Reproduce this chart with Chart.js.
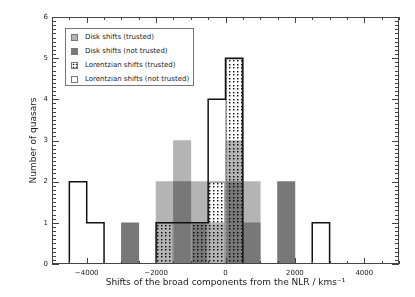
<!DOCTYPE html>
<html><head><meta charset="utf-8">
<script src="https://cdn.jsdelivr.net/npm/chart.js@4"></script>
<style>
html,body{margin:0;padding:0;background:#fff;}
#wrap{position:relative;width:415px;height:297px;overflow:hidden;}
canvas{position:absolute;left:0;top:0;}
#legend{position:absolute;left:65px;top:28px;width:127px;height:56px;border:1px solid #777;background:#fff;font:7px 'DejaVu Sans';color:#222;}
.row{position:absolute;left:0;height:14px;line-height:14px;white-space:nowrap;}
.sw{position:absolute;left:5px;top:4px;width:5px;height:5px;border:1px solid #777;}
.tx{position:absolute;left:19px;top:0;}
</style></head>
<body>
<div id="wrap">
<canvas id="c" width="415" height="297"></canvas>
<div id="legend"></div>
</div>
<script>
// ---- data (histogram bins of 500 km/s, centres) ----
const binCenters = [-4750,-4250,-3750,-3250,-2750,-2250,-1750,-1250,-750,-250,250,750,1250,1750,2250,2750,3250,3750,4250,4750];
const diskTrusted    = [0,0,0,0,0,0,2,3,2,1,3,2,0,0,0,0,0,0,0,0];
const diskNotTrusted = [0,0,0,0,1,0,0,2,1,0,2,1,0,2,0,0,0,0,0,0];
const lorTrusted     = [0,0,0,0,0,0,1,0,1,2,5,0,0,0,0,0,0,0,0,0];
const lorAll         = [0,2,1,0,0,0,1,1,1,4,5,0,0,0,0,1,0,0,0,0];
const xTicks = [-4000,-2000,0,2000,4000];
const xTickLabels = ['\u22124000','\u22122000','0','2000','4000'];
const yTicks = [0,1,2,3,4,5,6];
const legendLabels = ['Disk shifts (trusted)','Disk shifts (not trusted)','Lorentzian shifts (trusted)','Lorentzian shifts (not trusted)'];

// dot pattern (transparent tile with small dark dots)
const pc = document.createElement('canvas'); pc.width = 4; pc.height = 7;
const pctx = pc.getContext('2d');
[1,4].forEach(yy => {
  pctx.fillStyle = 'rgba(0,0,0,0.95)'; pctx.fillRect(1,yy,1,1);
  pctx.fillStyle = 'rgba(0,0,0,0.4)'; pctx.fillRect(2,yy,1,1); pctx.fillRect(1,yy+1,1,1);
  pctx.fillStyle = 'rgba(0,0,0,0.2)'; pctx.fillRect(2,yy+1,1,1);
});
const dots = document.getElementById('c').getContext('2d').createPattern(pc,'repeat');

const toBars = arr => arr.map((v,i)=>({x:binCenters[i], y: v ? v : null}));
const toLine = arr => arr.map((v,i)=>({x:binCenters[i], y: v}));

Chart.defaults.font.family = "'DejaVu Sans'";
Chart.defaults.font.size = 7;
Chart.defaults.color = '#222';

const framePlugin = {
  id:'frame',
  afterDatasetsDraw(chart){
    const {ctx, chartArea:a, scales:{x,y}} = chart;
    ctx.save();
    ctx.strokeStyle = '#444'; ctx.lineWidth = 1;
    ctx.strokeRect(a.left+0.5, a.top+0.5, a.right-a.left-1, a.bottom-a.top-1);
    ctx.beginPath();
    for (let v = x.min; v <= x.max; v += 500) {
      const px = Math.round(x.getPixelForValue(v)) + 0.5;
      const L = (v % 2000 === 0) ? 6 : 3;
      ctx.moveTo(px, a.bottom); ctx.lineTo(px, a.bottom - L);
      ctx.moveTo(px, a.top); ctx.lineTo(px, a.top + L);
    }
    for (let k = 0; k <= 60; k++) {
      const py = Math.round(y.getPixelForValue(k/10)) + 0.5;
      const L = (k % 10 === 0) ? 7 : 4;
      ctx.moveTo(a.left, py); ctx.lineTo(a.left + L, py);
      ctx.moveTo(a.right, py); ctx.lineTo(a.right - L, py);
    }
    ctx.stroke();
    ctx.restore();
  }
};

new Chart(document.getElementById('c'), {
  type: 'bar',
  data: {
    datasets: [
      {type:'line', label: legendLabels[3], data: toLine(lorAll), borderColor:'#111', borderWidth:1.5, pointRadius:0, fill:false, stepped:'middle', order:0},
      {label: legendLabels[2], data: toBars(lorTrusted), backgroundColor: dots, borderColor:'#999', borderWidth:1, order:1},
      {label: legendLabels[1], data: toBars(diskNotTrusted), backgroundColor:'#787878', borderWidth:0, order:2},
      {label: legendLabels[0], data: toBars(diskTrusted), backgroundColor:'#b4b4b4', borderWidth:0, order:3}
    ]
  },
  options: {
    responsive:false, animation:false, devicePixelRatio:1,
    layout:{padding:{left:0,right:16,top:17,bottom:0}},
    datasets:{bar:{grouped:false, barPercentage:1, categoryPercentage:1}},
    plugins:{legend:{display:false}, tooltip:{enabled:false}},
    scales:{
      x:{type:'linear', min:-5000, max:5000, offset:false,
         grid:{display:false, drawTicks:false}, border:{display:false},
         afterBuildTicks: s => { s.ticks = xTicks.map(v=>({value:v})); },
         afterFit: s => { s.height = 33; },
         ticks:{autoSkip:false, maxRotation:0, padding:5, callback: v => xTickLabels[xTicks.indexOf(v)]},
         title:{display:true, text:'Shifts of the broad components from the NLR / kms\u207B\u00B9', font:{size:9}, padding:{top:0,bottom:9}}},
      y:{type:'linear', min:0, max:6, offset:false,
         grid:{display:false, drawTicks:false}, border:{display:false},
         afterBuildTicks: s => { s.ticks = yTicks.map(v=>({value:v})); },
         afterFit: s => { s.width = 52; },
         ticks:{padding:4, callback: v => String(v)},
         title:{display:true, text:'Number of quasars', font:{size:9}, padding:{top:28,bottom:0}}}
    }
  },
  plugins:[framePlugin]
});

// legend (HTML overlay)
const swStyles = [
  'background:#b4b4b4;',
  'background:#787878;',
  'background:#fff radial-gradient(#222 0.7px, transparent 1.1px) 0 0/3px 3px;',
  'background:#fff;'
];
const lg = document.getElementById('legend');
legendLabels.forEach((t,i)=>{
  const r = document.createElement('div'); r.className='row'; r.style.top = (1 + 14*i) + 'px';
  r.innerHTML = '<div class="sw" style="'+swStyles[i]+'"></div><div class="tx"></div>';
  r.querySelector('.tx').textContent = t;
  lg.appendChild(r);
});
</script>
</body></html>
